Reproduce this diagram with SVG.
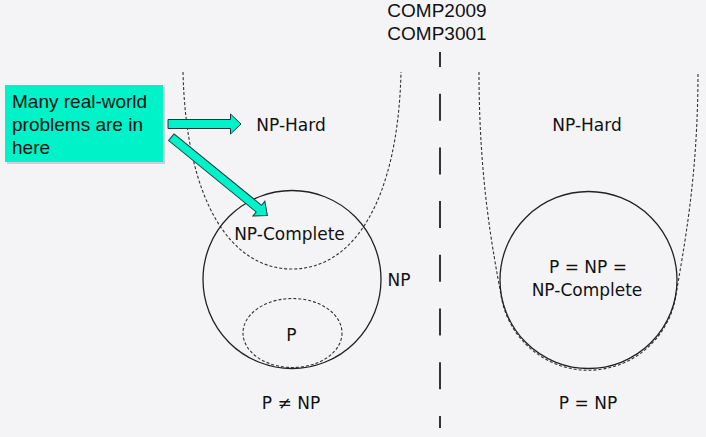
<svg xmlns="http://www.w3.org/2000/svg" width="706" height="437" viewBox="0 0 706 437">
<style>
.lbl{font-family:"DejaVu Sans",Verdana,sans-serif;font-size:17px;fill:#111;text-anchor:middle}
.ar{font-family:"Liberation Sans",Arial,sans-serif;font-size:19px;fill:#111}
.set{fill:none;stroke:#222;stroke-width:1.3}
.dash{fill:none;stroke:#333;stroke-width:1.1;stroke-dasharray:3 2}
.arrow{fill:#00F2C9;stroke:#1a3a40;stroke-width:1}
</style>
<rect width="706" height="437" fill="#f4f4f6"/>

<g id="title">
<text class="ar" x="437" y="17" text-anchor="middle">COMP2009</text>
<text class="ar" x="437" y="40" text-anchor="middle">COMP3001</text>
</g>

<g id="divider">
<line x1="440" y1="52" x2="440" y2="428" stroke="#333" stroke-width="2" stroke-dasharray="27 26.7" stroke-dashoffset="12"/>
</g>

<g id="left-np-hard">
<path class="dash" d="M183,72 C186,200 230,269 292,269 C354,269 398,200 401,72"/>
<text class="lbl" x="291" y="131">NP-Hard</text>
</g>

<g id="left-np">
<circle class="set" cx="292" cy="279.5" r="89"/>
<text class="lbl" x="399" y="286">NP</text>
</g>

<g id="left-np-complete">
<text class="lbl" x="289.5" y="240">NP-Complete</text>
</g>

<g id="left-p">
<ellipse class="dash" cx="292.5" cy="333" rx="49.5" ry="34.5"/>
<text class="lbl" x="291.5" y="341">P</text>
</g>

<g id="left-caption">
<text class="lbl" x="291" y="409">P ≠ NP</text>
</g>

<g id="right-np-hard">
<path class="dash" d="M479,72 C479,180 493,251 501,295 A88.5,88.5 0 0 0 676,295 C683,251 698,180 698,72"/>
<text class="lbl" x="587" y="131">NP-Hard</text>
</g>

<g id="right-np">
<circle class="set" cx="588.5" cy="280" r="88.5"/>
<text class="lbl" x="588" y="273">P = NP =</text>
<text class="lbl" x="587" y="296">NP-Complete</text>
</g>

<g id="right-caption">
<text class="lbl" x="588" y="409">P = NP</text>
</g>

<g id="callout">
<rect x="7" y="87" width="158" height="77" fill="#9aa6a4" opacity="0.45"/>
<rect x="5" y="85" width="158" height="77" fill="#00F2C9"/>
<text class="ar" x="12" y="108">Many real-world</text>
<text class="ar" x="12" y="131">problems are in</text>
<text class="ar" x="12" y="154">here</text>
</g>

<g id="connectors">
<polygon class="arrow" points="168,119.5 230.5,119.5 230.5,114 241,124 230.5,134 230.5,128.5 168,128.5"/>
<polygon class="arrow" transform="translate(171.3,137.2) rotate(39.2)" points="0,-4.3 113,-4.3 113,-9.5 124,0 113,9.5 113,4.3 0,4.3"/>
</g>
</svg>
